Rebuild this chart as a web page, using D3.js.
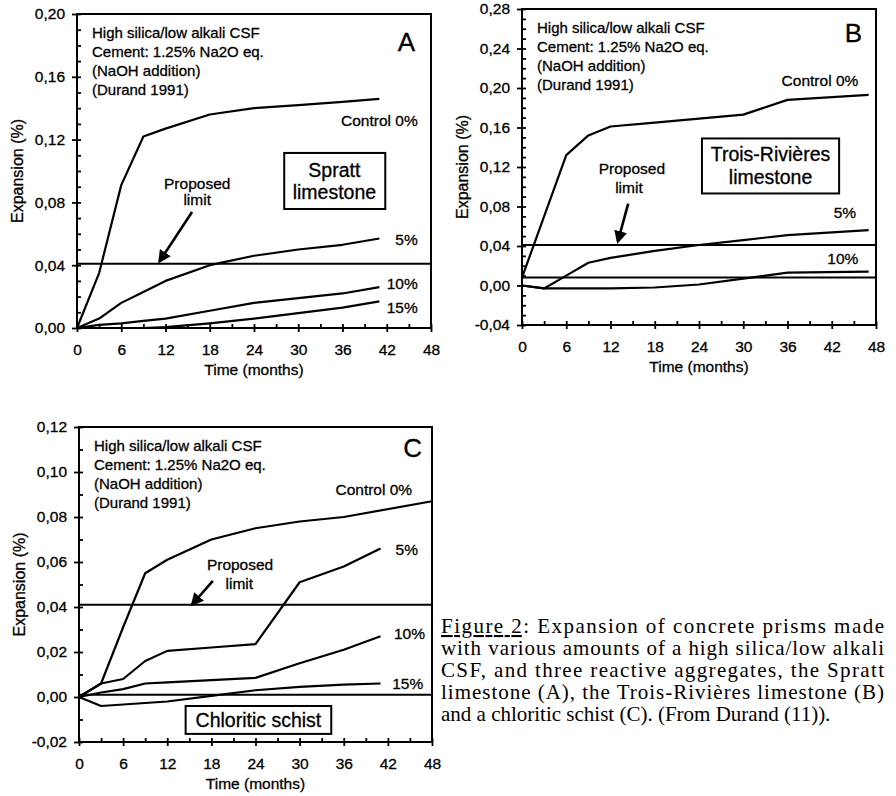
<!DOCTYPE html>
<html>
<head>
<meta charset="UTF-8">
<script src="https://d3js.org/d3.v7.min.js"></script>
<style>
  body { margin: 0; background: #fff; }
  text { font-family: "Liberation Sans", Arial, sans-serif; fill: #000; }
  .chart text { stroke: #000; stroke-width: 0.3px; }
  .cap { font-family: "Liberation Serif", "Times New Roman", serif; font-size: 21px; }
</style>
</head>
<body>
<svg id="canvas"></svg>
<script>
// ---- data (months, expansion %) ----
const noteLines = ["High silica/low alkali CSF", "Cement: 1.25% Na2O eq.", "(NaOH addition)", "(Durand 1991)"];
const seriesNames = ["Control 0%", "5%", "10%", "15%"];
const xTicks = [0, 6, 12, 18, 24, 30, 36, 42, 48];
const xMinor = d3.range(0, 49, 3);
const limitValue = 0.041;

// panel A - Spratt limestone
const monthsA = [0, 3, 6, 9, 12, 18, 24, 30, 36, 41];
const controlA = [0, 0.035, 0.091, 0.122, 0.127, 0.136, 0.140, 0.142, 0.144, 0.146];
const pct5A    = [0, 0.006, 0.016, 0.023, 0.030, 0.040, 0.046, 0.050, 0.053, 0.057];
const pct10A   = [0, 0.002, 0.003, 0.0045, 0.006, 0.011, 0.016, 0.019, 0.022, 0.026];
const pct15A   = [0, 0, 0, 0, 0.0005, 0.003, 0.006, 0.0095, 0.013, 0.017];
const yTicksA = [0, 0.04, 0.08, 0.12, 0.16, 0.20];

// panel B - Trois-Rivieres limestone
const monthsCtrlB = [0, 6, 9, 12, 18, 24, 30, 36, 47];
const controlB = [0.008, 0.132, 0.152, 0.161, 0.165, 0.169, 0.173, 0.188, 0.193];
const months5B = [0, 3, 6, 9, 12, 18, 24, 30, 36, 47];
const pct5B    = [0, -0.003, 0.010, 0.023, 0.028, 0.035, 0.041, 0.046, 0.051, 0.056];
const months10B = [0, 3, 12, 18, 24, 30, 36, 47];
const pct10B   = [0, -0.003, -0.003, -0.002, 0.001, 0.007, 0.013, 0.014];
const baseB = 0.008;
const yTicksB = [-0.04, 0, 0.04, 0.08, 0.12, 0.16, 0.20, 0.24, 0.28];

// panel C - chloritic schist
const monthsC = [0, 3, 6, 9, 12, 18, 24, 30, 36, 48];
const controlC = [0, 0.006, 0.031, 0.055, 0.061, 0.070, 0.075, 0.078, 0.080, 0.087];
const months5C = [0, 3, 6, 9, 12, 18, 24, 30, 36, 41];
const pct5C    = [0, 0.006, 0.008, 0.016, 0.0205, 0.022, 0.0235, 0.051, 0.058, 0.066];
const pct10C   = [0, 0.002, 0.0035, 0.006, 0.0065, 0.0075, 0.0085, 0.015, 0.021, 0.027];
const months15C = [0, 3, 12, 18, 24, 30, 36, 41];
const pct15C   = [0, -0.004, -0.002, 0.0005, 0.003, 0.0045, 0.0055, 0.006];
const baseC = 0.001;
const yTicksC = [-0.02, 0, 0.02, 0.04, 0.06, 0.08, 0.10, 0.12];

const captionLines = [
  "Expansion of concrete prisms made",
  "with various amounts of a high silica/low alkali",
  "CSF, and three reactive aggregates, the Spratt",
  "limestone (A), the Trois-Rivières limestone (B)",
  "and a chloritic schist (C). (From Durand (11))."
];

const zip = (xs, ys) => xs.map((m, i) => [m, ys[i]]);

const panels = [
  { letter: "A", box: ["Spratt", "limestone"], left: 77, top: 14, right: 431, bottom: 328,
    yDomain: [0, 0.2], yTicks: yTicksA, base: null,
    series: [zip(monthsA, controlA), zip(monthsA, pct5A), zip(monthsA, pct10A), zip(monthsA, pct15A)],
    labels: [[46.2, 0.1325], [46.2, 0.0567], [46.2, 0.0287], [46.2, 0.0134]],
    boxRect: [28.1, 0.1115, 41.8, 0.0758], boxText: [[34.9, 0.1006], [34.9, 0.0866]],
    prop: [[16.3, 0.0924], [16.3, 0.082]], arrow: [[15.6, 0.0739], [11.2, 0.0425]],
    letterPos: [415, 51] },
  { letter: "B", box: ["Trois-Rivières", "limestone"], left: 522, top: 9, right: 876, bottom: 325,
    yDomain: [-0.04, 0.28], yTicks: yTicksB, base: baseB,
    series: [zip(monthsCtrlB, controlB), zip(months5B, pct5B), zip(months10B, pct10B)],
    labels: [[45.6, 0.2076], [45.3, 0.0739], [45.6, 0.0273]],
    boxRect: [24.4, 0.1489, 43.0, 0.0932], boxText: [[33.7, 0.1327], [33.7, 0.1094]],
    prop: [[14.9, 0.1185], [14.5, 0.0992]], arrow: [[14.4, 0.083], [13.0, 0.0446]],
    letterPos: [862, 42] },
  { letter: "C", box: ["Chloritic schist"], left: 79, top: 427, right: 432, bottom: 742,
    yDomain: [-0.02, 0.12], yTicks: yTicksC, base: baseC,
    series: [zip(monthsC, controlC), zip(months5C, pct5C), zip(months5C, pct10C), zip(months15C, pct15C)],
    labels: [[45.3, 0.0924], [46.1, 0.0658], [47.05, 0.0284], [46.8, 0.0062]],
    boxRect: [14.5, -0.004, 34.3, -0.0164], boxText: [[24.4, -0.0102]],
    prop: [[21.9, 0.0591], [21.8, 0.0507]], arrow: [[18.2, 0.0516], [15.4, 0.0412]],
    letterPos: [422, 457] }
];

const svg = d3.select("#canvas").attr("width", 896).attr("height", 796);
svg.append("rect").attr("width", 896).attr("height", 796).attr("fill", "#fff");

svg.append("defs").append("marker")
  .attr("id", "head").attr("viewBox", "0 0 10 10").attr("refX", 8).attr("refY", 5)
  .attr("markerWidth", 5).attr("markerHeight", 5).attr("orient", "auto")
  .append("path").attr("d", "M0,0 L10,5 L0,10 Z").attr("fill", "#000");

const fmt = v => d3.format(".2f")(v).replace(".", ",").replace("−", "-");

panels.forEach(p => {
  const x = d3.scaleLinear().domain([0, 48]).range([p.left, p.right]);
  const y = d3.scaleLinear().domain(p.yDomain).range([p.bottom, p.top]);
  const g = svg.append("g").attr("class", "chart");

  // minor ticks (inside)
  const yMinor = d3.range(Math.round(p.yDomain[0] * 100), Math.round(p.yDomain[1] * 100) + 1).map(v => v / 100);
  g.append("g").attr("transform", `translate(${p.left},0)`)
    .call(d3.axisRight(y).tickValues(yMinor).tickSize(4).tickFormat(""))
    .call(a => a.select(".domain").remove());
  g.append("g").attr("transform", `translate(0,${p.bottom})`)
    .call(d3.axisTop(x).tickValues(xMinor).tickSize(4).tickFormat(""))
    .call(a => a.select(".domain").remove());

  // major axes
  g.append("g").attr("transform", `translate(${p.left},0)`)
    .call(d3.axisLeft(y).tickValues(p.yTicks).tickSize(5).tickPadding(7).tickFormat(fmt))
    .call(a => a.select(".domain").remove())
    .call(a => a.selectAll("text").style("font-size", "15.5px").style("font-family", '"Liberation Sans", Arial, sans-serif'));
  g.append("g").attr("transform", `translate(0,${p.bottom})`)
    .call(d3.axisBottom(x).tickValues(xTicks).tickSize(4).tickPadding(12))
    .call(a => a.select(".domain").remove())
    .call(a => a.selectAll("text").style("font-size", "15.5px").style("font-family", '"Liberation Sans", Arial, sans-serif'));
  g.selectAll(".tick line").attr("stroke", "#000").attr("stroke-width", 1.8);

  // frame
  g.append("rect").attr("x", p.left).attr("y", p.top)
    .attr("width", p.right - p.left).attr("height", p.bottom - p.top)
    .attr("fill", "none").attr("stroke", "#000").attr("stroke-width", 2);

  // reference lines
  g.append("line").attr("x1", x(0)).attr("x2", x(48)).attr("y1", y(limitValue)).attr("y2", y(limitValue))
    .attr("stroke", "#000").attr("stroke-width", 2);
  if (p.base !== null) {
    g.append("line").attr("x1", x(0)).attr("x2", x(48)).attr("y1", y(p.base)).attr("y2", y(p.base))
      .attr("stroke", "#000").attr("stroke-width", 2);
  }

  // series
  const line = d3.line().x(d => x(d[0])).y(d => y(d[1]));
  g.selectAll("path.series").data(p.series).enter().append("path")
    .attr("class", "series").attr("d", line)
    .attr("fill", "none").attr("stroke", "#000").attr("stroke-width", 2.2).attr("stroke-linejoin", "round");

  g.selectAll("text.lab").data(p.labels).enter().append("text")
    .attr("class", "lab").attr("x", d => x(d[0])).attr("y", d => y(d[1]))
    .attr("dy", "0.36em").attr("text-anchor", "end").style("font-size", "15.5px")
    .text((d, i) => seriesNames[i]);

  // notes
  g.selectAll("text.note").data(noteLines).enter().append("text")
    .attr("class", "note").attr("x", p.left + 15).attr("y", (d, i) => p.top + 24 + i * 19)
    .style("font-size", "15px").text(d => d);

  g.append("text").attr("x", p.letterPos[0]).attr("y", p.letterPos[1])
    .attr("text-anchor", "end").style("font-size", "26px").text(p.letter);

  // aggregate box
  const br = p.boxRect;
  g.append("rect").attr("x", x(br[0])).attr("y", y(br[1]))
    .attr("width", x(br[2]) - x(br[0])).attr("height", y(br[3]) - y(br[1]))
    .attr("fill", "#fff").attr("stroke", "#000").attr("stroke-width", 2);
  g.selectAll("text.box").data(p.box).enter().append("text")
    .attr("class", "box").attr("x", (d, i) => x(p.boxText[i][0])).attr("y", (d, i) => y(p.boxText[i][1]))
    .attr("dy", "0.36em").attr("text-anchor", "middle").style("font-size", "19.5px").text(d => d);

  // proposed limit annotation
  ["Proposed", "limit"].forEach((t, i) => {
    g.append("text").attr("x", x(p.prop[i][0])).attr("y", y(p.prop[i][1]))
      .attr("dy", "0.36em").attr("text-anchor", "middle").style("font-size", "15.5px").text(t);
  });
  g.append("line")
    .attr("x1", x(p.arrow[0][0])).attr("y1", y(p.arrow[0][1]))
    .attr("x2", x(p.arrow[1][0])).attr("y2", y(p.arrow[1][1]))
    .attr("stroke", "#000").attr("stroke-width", 2.6).attr("marker-end", "url(#head)");

  // axis titles
  g.append("text").attr("x", (p.left + p.right) / 2).attr("y", p.bottom + 41)
    .attr("dy", "0.36em").attr("text-anchor", "middle").style("font-size", "15.5px").text("Time (months)");
  g.append("text")
    .attr("transform", `translate(${p.left - 60},${(p.top + p.bottom) / 2}) rotate(-90)`)
    .attr("dy", "0.36em").attr("text-anchor", "middle").style("font-size", "16px").text("Expansion (%)");
});

// caption, justified lines
const cap = svg.append("g");
const capLeft = 441, capWidth = 443;
captionLines.forEach((t, i) => {
  const yy = 633 + i * 22;
  const last = i === captionLines.length - 1;
  if (i === 0) {
    const tx = cap.append("text").attr("class", "cap").attr("x", capLeft).attr("y", yy)
      .attr("textLength", capWidth).attr("lengthAdjust", "spacing");
    tx.append("tspan").attr("text-decoration", "underline").text("Figure 2");
    tx.append("tspan").text(": " + t);
  } else {
    const tx = cap.append("text").attr("class", "cap").attr("x", capLeft).attr("y", yy).text(t);
    if (!last) tx.attr("textLength", capWidth).attr("lengthAdjust", "spacing");
  }
});
</script>
</body>
</html>
